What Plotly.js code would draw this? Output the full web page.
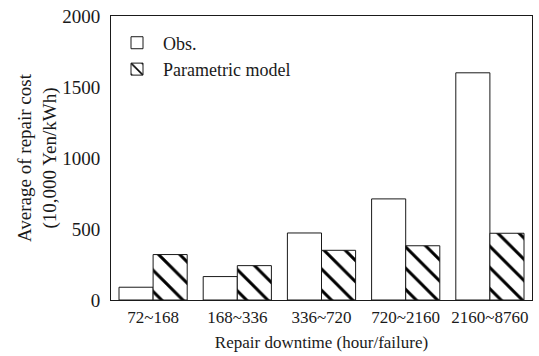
<!DOCTYPE html>
<html>
<head>
<meta charset="utf-8">
<script src="https://cdn.plot.ly/plotly-3.0.1.min.js"></script>
<style>
  html, body { margin: 0; padding: 0; background: #fff; }
  #chart { width: 539px; height: 356px; }
</style>
</head>
<body>
<div id="chart"></div>
<script>
// Repair downtime classes (hours per failure)
const categories = ['72~168', '168~336', '336~720', '720~2160', '2160~8760'];
// Average repair cost, 10,000 Yen/kWh
const observed = [90, 165, 472, 712, 1600];
const parametric = [320, 242, 350, 382, 470];
const yTickValues = [0, 500, 1000, 1500, 2000];

const serif = 'Liberation Serif';
const ink = '#1a1a1a';

const traces = [
  {
    type: 'bar',
    name: 'Obs.',
    x: categories,
    y: observed,
    marker: { color: '#ffffff', line: { color: ink, width: 1 } }
  },
  {
    type: 'bar',
    name: 'Parametric model',
    x: categories,
    y: parametric,
    marker: {
      color: '#ffffff',
      line: { color: ink, width: 1 },
      pattern: { shape: '\\', fgcolor: '#000000', fgopacity: 1, bgcolor: '#ffffff', size: 15, solidity: 0.2, fillmode: 'replace' }
    }
  }
];

const layout = {
  width: 539,
  height: 356,
  margin: { l: 111, r: 7, t: 16, b: 56, autoexpand: false },
  paper_bgcolor: '#ffffff',
  plot_bgcolor: '#ffffff',
  font: { family: serif, color: ink },
  barmode: 'group',
  bargap: 0.19,
  bargroupgap: 0,
  showlegend: true,
  legend: {
    x: 0.0, y: 0.97, xanchor: 'left', yanchor: 'top',
    bgcolor: 'rgba(0,0,0,0)',
    itemwidth: 42,
    font: { family: serif, size: 18, color: ink },
    tracegroupgap: 0
  },
  xaxis: {
    type: 'category',
    automargin: false,
    showline: true, linecolor: ink, linewidth: 1, mirror: true,
    showgrid: false, zeroline: false, ticks: '',
    ticklabelstandoff: 2,
    tickfont: { family: serif, size: 17, color: ink },
    title: { text: 'Repair downtime (hour/failure)', font: { family: serif, size: 17, color: ink }, standoff: 9 }
  },
  yaxis: {
    range: [0, 2000],
    automargin: false,
    tickvals: yTickValues,
    ticktext: yTickValues.map(String),
    showline: true, linecolor: ink, linewidth: 1, mirror: true,
    showgrid: false, zeroline: false, ticks: '',
    ticklabelstandoff: 6,
    tickfont: { family: serif, size: 19, color: ink },
    title: { text: 'Average of repair cost<br>(10,000 Yen/kWh)', font: { family: serif, size: 19, color: ink }, standoff: 0 }
  }
};

Plotly.newPlot('chart', traces, layout, { staticPlot: true, displayModeBar: false });
</script>
</body>
</html>
